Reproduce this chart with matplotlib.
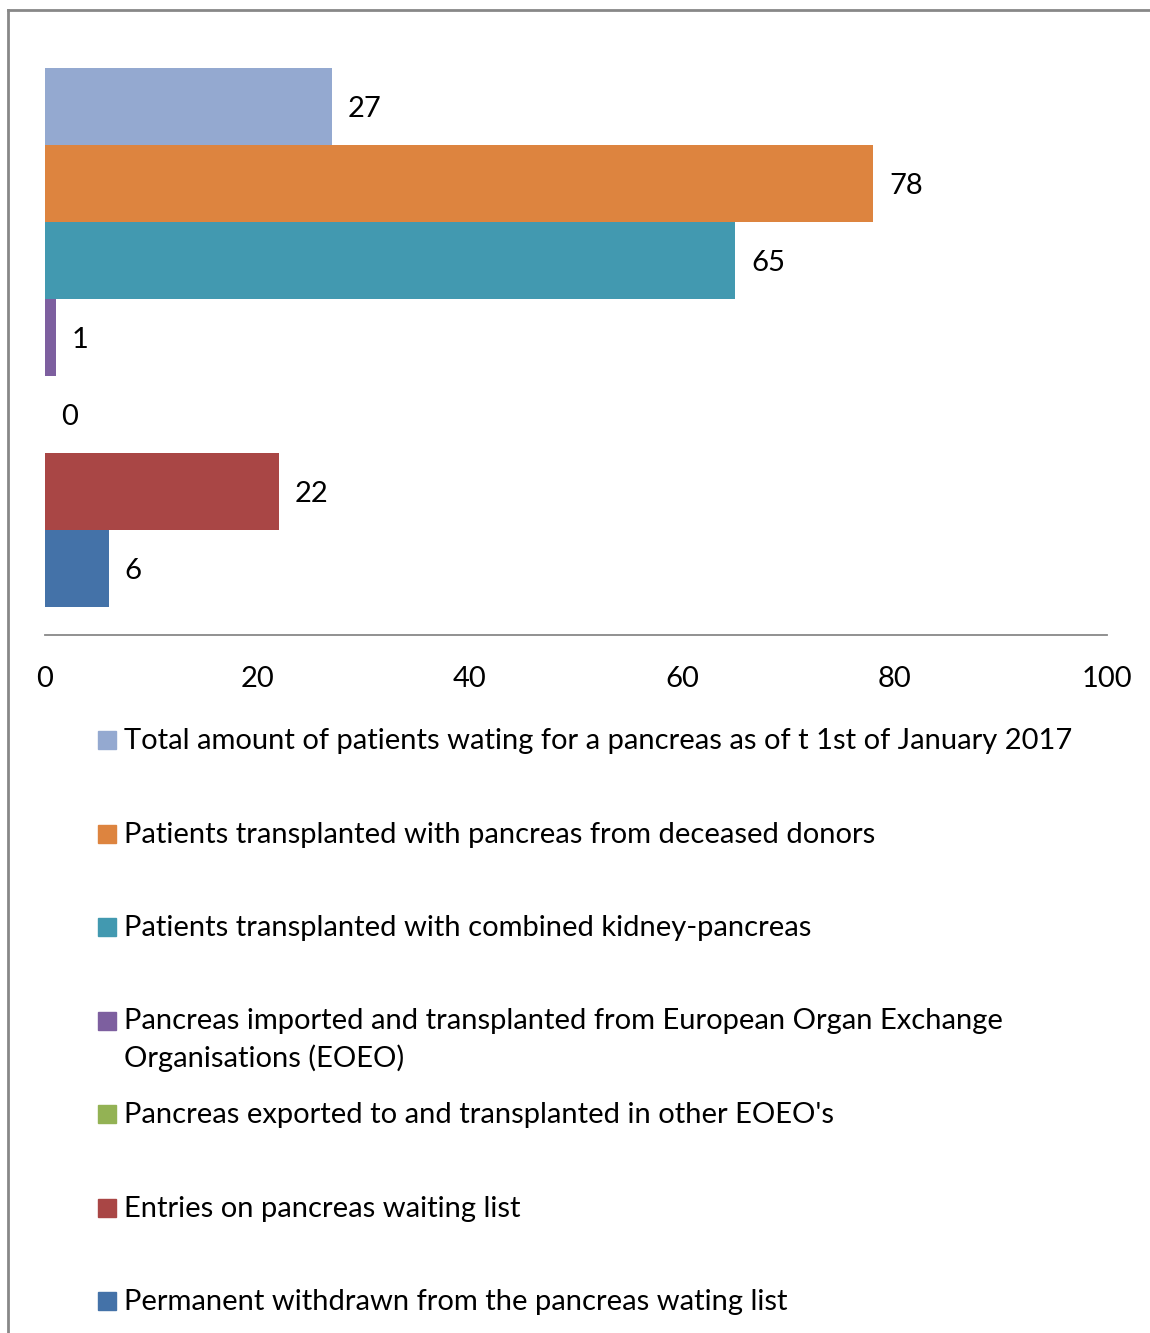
import matplotlib.pyplot as plt
from matplotlib.patches import Rectangle
from matplotlib.lines import Line2D

plt.rcParams['font.family'] = ['Lato', 'DejaVu Sans']

labels = [
    'Total amount of patients wating for a pancreas as of t 1st of January 2017',
    'Patients transplanted with pancreas from deceased donors',
    'Patients transplanted with combined kidney-pancreas',
    'Pancreas imported and transplanted from European Organ Exchange\nOrganisations (EOEO)',
    "Pancreas exported to and transplanted in other EOEO's",
    'Entries on pancreas waiting list',
    'Permanent withdrawn from the pancreas wating list',
]
values = [27, 78, 65, 1, 0, 22, 6]
colors = ['#94A9D0', '#DD843F', '#4299B0', '#7D5F9F', '#93B254', '#A94645', '#4472A8']
xticks = [0, 20, 40, 60, 80, 100]

W, H = 1150, 1333
FS = 21
fig = plt.figure(figsize=(W / 100, H / 100), dpi=100)

ax = fig.add_axes([45 / W, 1 - 635 / H, 1062 / W, 595 / H])
pos = list(range(len(values)))
ax.barh(pos, values, height=1.0, color=colors)
for p, v in zip(pos, values):
    ax.text(v + 1.5, p, str(v), va='center_baseline', ha='left', fontsize=FS)
ax.set_ylim(6.86, -0.86)
ax.set_xlim(0, 100)
ax.set_xticks(xticks)
ax.set_yticks([])
ax.tick_params(axis='x', length=0, labelsize=FS, pad=22)
for s in ['top', 'right', 'left']:
    ax.spines[s].set_visible(False)
ax.spines['bottom'].set_color('#888888')
ax.spines['bottom'].set_linewidth(1.3)

# legend drawn by hand, one entry every ~93.5 px
for i, (lab, c) in enumerate(zip(labels, colors)):
    base = 749 + i * 93.5
    fig.patches.append(Rectangle((98 / W, 1 - base / H), 18 / W, 18 / H,
                                 transform=fig.transFigure, color=c))
    first, _, rest = lab.partition('\n')
    fig.text(124 / W, 1 - base / H, first, va='baseline', ha='left', fontsize=FS)
    if rest:
        fig.text(124 / W, 1 - (base + 38) / H, rest, va='baseline', ha='left', fontsize=FS)

# outer frame lines
fig.add_artist(Line2D([8 / W, 8 / W], [0, 1 - 10 / H], color='#888888', lw=2))
fig.add_artist(Line2D([8 / W, 1], [1 - 10 / H, 1 - 10 / H], color='#888888', lw=2))

fig.savefig('out.png', dpi=100)
